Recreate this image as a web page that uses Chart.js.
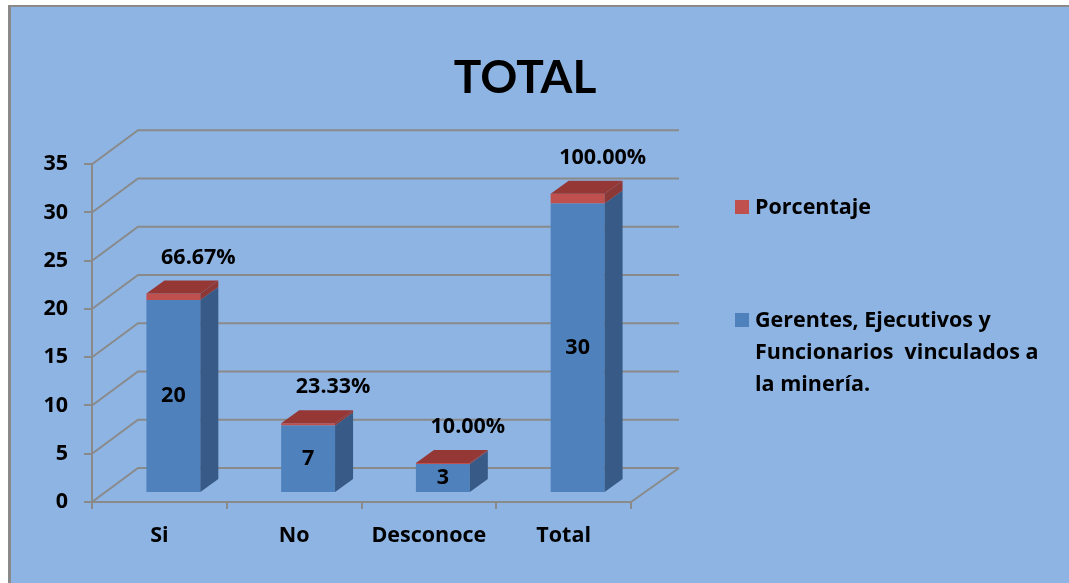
<!DOCTYPE html>
<html>
<head>
<meta charset="utf-8">
<script src="https://cdn.jsdelivr.net/npm/chart.js@4/dist/chart.umd.min.js"></script>
<style>
  html, body { margin: 0; padding: 0; background: #ffffff; width: 1069px; height: 583px; overflow: hidden; }
  #bg { position: absolute; left: 8px; top: 5px; width: 1080px; height: 600px; background: #8EB4E3;
        border-top: 2px solid #8a8a8a; border-left: 3px solid #8a8a8a; }
  #c { position: absolute; left: 0; top: 0; }
  #legend { position: absolute; left: 735px; top: 0; font-family: "Open Sans", "Liberation Sans", sans-serif; font-weight: bold;
            font-size: 21.5px; color: #000; }
  .item { position: absolute; left: 0; white-space: pre; }
  .sw { position: absolute; left: 0; width: 14px; height: 14px; }
  .txt { position: absolute; left: 20px; line-height: 32px; }
</style>
</head>
<body>
<div id="bg"></div>
<canvas id="c" width="1069" height="583"></canvas>
<div id="legend"></div>
<script>
// ---- data ----
const categories = ['Si', 'No', 'Desconoce', 'Total'];
const gerentes = [20, 7, 3, 30];
const porcentaje = [0.6667, 0.2333, 0.10, 1.00];
const seriesNames = ['Gerentes, Ejecutivos y\nFuncionarios  vinculados a\nla minería.', 'Porcentaje'];
const yTicks = [0, 5, 10, 15, 20, 25, 30, 35];

// ---- style ----
const FONT = '"Open Sans", "Liberation Sans", sans-serif';
const TITLE_FONT = 'Lato, "Liberation Sans", sans-serif';
const BLUE = '#4F81BD', BLUE_SIDE = '#375A86';
const RED = '#C0504D', RED_SIDE = '#8C3836', RED_TOP = '#953735';
const GRAY = '#8a8a8a';
const WALL = { dx: 46, dy: -34 };   // depth of the floor / back wall
const BAR_SHIFT = { dx: 14, dy: -9 };  // bars sit inside the depth
const BAR_DEPTH = { dx: 18, dy: -13 };

const threeD = {
  id: 'threeD',
  beforeDatasetsDraw(chart) {
    const { ctx, chartArea: a, scales: { y } } = chart;
    ctx.save();
    ctx.strokeStyle = GRAY;
    ctx.lineWidth = 2;
    yTicks.forEach(v => {
      const py = y.getPixelForValue(v);
      ctx.beginPath();
      ctx.moveTo(a.left, py);
      ctx.lineTo(a.left + WALL.dx, py + WALL.dy);
      ctx.lineTo(a.right + WALL.dx + 2, py + WALL.dy);
      ctx.stroke();
    });
    // floor right edge
    const p0 = y.getPixelForValue(0);
    ctx.beginPath();
    ctx.moveTo(a.right, p0);
    ctx.lineTo(a.right + WALL.dx + 2, p0 + WALL.dy);
    ctx.stroke();
    ctx.restore();
    ctx.save();
    ctx.translate(BAR_SHIFT.dx, BAR_SHIFT.dy);
  },
  afterDatasetsDraw(chart) {
    const { ctx } = chart;
    const nSets = chart.data.datasets.length;
    const sides = [BLUE_SIDE, RED_SIDE];
    for (let d = 0; d < nSets; d++) {
      const meta = chart.getDatasetMeta(d);
      meta.data.forEach(bar => {
        const { x, y, base, width } = bar.getProps(['x', 'y', 'base', 'width'], true);
        const r = x + width / 2, l = x - width / 2;
        ctx.fillStyle = sides[d];
        ctx.beginPath();
        ctx.moveTo(r, y);
        ctx.lineTo(r + BAR_DEPTH.dx, y + BAR_DEPTH.dy);
        ctx.lineTo(r + BAR_DEPTH.dx, base + BAR_DEPTH.dy);
        ctx.lineTo(r, base);
        ctx.closePath();
        ctx.fill();
        if (d === nSets - 1) {
          ctx.fillStyle = RED_TOP;
          ctx.beginPath();
          ctx.moveTo(l, y);
          ctx.lineTo(r, y);
          ctx.lineTo(r + BAR_DEPTH.dx, y + BAR_DEPTH.dy);
          ctx.lineTo(l + BAR_DEPTH.dx, y + BAR_DEPTH.dy);
          ctx.closePath();
          ctx.fill();
        }
      });
    }
    // labels
    ctx.fillStyle = '#000';
    ctx.font = 'bold 21.5px ' + FONT;
    ctx.textAlign = 'center';
    ctx.textBaseline = 'middle';
    const m0 = chart.getDatasetMeta(0), m1 = chart.getDatasetMeta(1);
    m0.data.forEach((bar, i) => {
      const { x, y, base } = bar.getProps(['x', 'y', 'base'], true);
      ctx.fillText(String(chart.data.datasets[0].data[i]), x, (y + base) / 2);
    });
    m1.data.forEach((bar, i) => {
      const { x, y } = bar.getProps(['x', 'y'], true);
      const v = chart.data.datasets[1].data[i];
      ctx.fillText((v * 100).toFixed(2) + '%', x + 25, y - 36);
    });
    ctx.restore();
  }
};

const chart = new Chart(document.getElementById('c'), {
  type: 'bar',
  data: {
    labels: categories,
    datasets: [
      { label: seriesNames[0], data: gerentes, backgroundColor: BLUE, stack: 's', clip: false },
      { label: seriesNames[1], data: porcentaje, backgroundColor: RED, stack: 's', clip: false }
    ]
  },
  options: {
    responsive: false,
    devicePixelRatio: 1,
    animation: false,
    layout: { padding: { left: 0, right: 19, top: 0, bottom: 0 } },
    datasets: { bar: { categoryPercentage: 1, barPercentage: 0.4, borderWidth: 0 } },
    plugins: {
      legend: { display: false },
      tooltip: { enabled: false },
      title: {
        display: true, text: 'TOTAL', color: '#000',
        font: { family: TITLE_FONT, size: 46, weight: 'bold' },
        padding: { top: 51, bottom: 58 }
      }
    },
    scales: {
      x: {
        stacked: true,
        grid: { drawOnChartArea: false, drawTicks: true, tickLength: 7, color: GRAY, lineWidth: 2, offset: true },
        border: { display: true, color: GRAY, width: 2 },
        ticks: { color: '#000', font: { family: FONT, size: 21.5, weight: 'bold' }, padding: 14 },
        afterFit(s) { s.height = 81; }
      },
      y: {
        stacked: true, min: 0, max: 35,
        afterBuildTicks(s) { s.ticks = yTicks.map(v => ({ value: v })); },
        grid: { drawOnChartArea: false, drawTicks: true, tickLength: 8, color: GRAY, lineWidth: 2 },
        border: { display: true, color: GRAY, width: 2 },
        ticks: { color: '#000', font: { family: FONT, size: 21.5, weight: 'bold' }, padding: 16 },
        afterFit(s) { s.width = 92; }
      },
      yR: {
        position: 'right', display: true,
        grid: { display: false }, border: { display: false },
        ticks: { display: false },
        afterFit(s) { s.width = 419; }
      }
    }
  },
  plugins: [threeD]
});

// ---- legend (HTML, from chart datasets, reversed like the stack) ----
const leg = document.getElementById('legend');
const tops = [313, 200];
const txtTops = [303, 190];
chart.data.datasets.forEach((ds, i) => {
  const sw = document.createElement('div');
  sw.className = 'sw';
  sw.style.top = tops[i] + 'px';
  sw.style.background = ds.backgroundColor;
  leg.appendChild(sw);
  const t = document.createElement('div');
  t.className = 'txt item';
  t.style.left = '20px';
  t.style.top = txtTops[i] + 'px';
  t.textContent = ds.label;
  leg.appendChild(t);
});
</script>
</body>
</html>
